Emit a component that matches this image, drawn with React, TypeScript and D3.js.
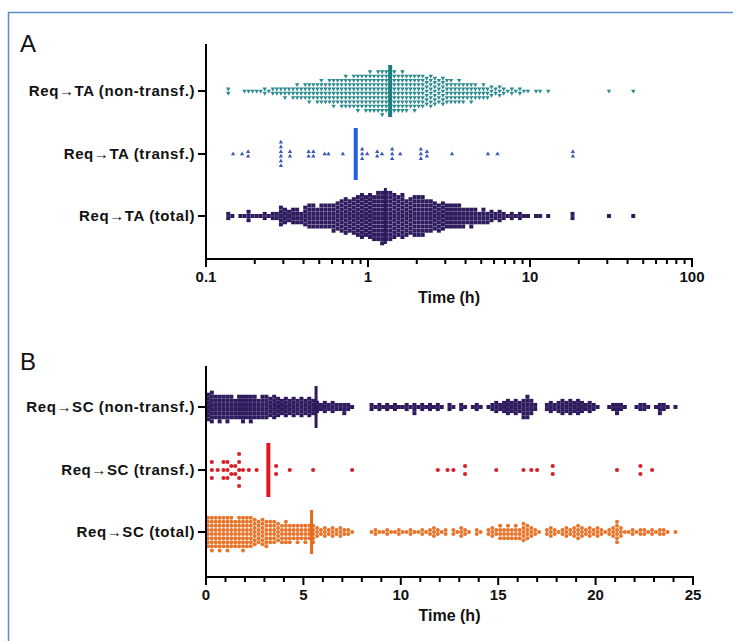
import { useEffect, useRef } from 'react';
import * as d3 from 'd3';

const W = 733;
const H = 641;
const FONT = '"Liberation Sans", Arial, Helvetica, sans-serif';

// ---- panel A (log axis), dense rows: point counts per 0.025-decade bin, starting at 0.1 h
const taBinStep = 0.025;
const taNonTransfCounts = [
  0, 0, 0, 0, 0, 2, 0, 0, 0, 1, 1, 1, 1, 1, 2, 1, 2, 2, 2, 3,
  2, 3, 4, 3, 4, 5, 4, 5, 6, 5, 6, 7, 6, 7, 8, 7, 8, 9, 8, 9,
  10, 9, 10, 11, 10, 11, 10, 9, 10, 9, 8, 9, 8, 8, 7, 8, 7, 6, 7, 6,
  6, 5, 6, 5, 4, 5, 4, 3, 4, 3, 3, 2, 3, 2, 1, 2, 1, 2, 1, 1,
  0, 1, 1, 0, 1, 0, 0, 0, 0, 0, 0, 0, 0, 0, 0, 0, 0, 0, 0, 1,
  0, 0, 0, 0, 0, 1,
];
const taTotalCounts = [
  0, 0, 0, 0, 0, 2, 1, 0, 1, 1, 3, 1, 1, 1, 2, 1, 2, 2, 5, 4,
  3, 4, 4, 3, 5, 6, 6, 5, 6, 6, 6, 7, 7, 8, 9, 8, 9, 10, 11, 10,
  11, 11, 12, 13, 12, 12, 11, 10, 11, 9, 9, 10, 10, 10, 8, 8, 7, 7, 7, 6,
  6, 6, 6, 5, 4, 5, 4, 3, 4, 3, 3, 2, 3, 2, 1, 2, 1, 2, 1, 1,
  0, 1, 1, 0, 1, 0, 0, 0, 0, 0, 2, 0, 0, 0, 0, 0, 0, 0, 0, 1,
  0, 0, 0, 0, 0, 1,
];
// sparse row: [hours, points stacked at that value]
const taTransf: [number, number][] = [
  [0.147, 1], [0.167, 1], [0.182, 2], [0.29, 6], [0.33, 2], [0.43, 2], [0.46, 2],
  [0.54, 1], [0.57, 1], [0.7, 1], [0.92, 3], [0.99, 1], [1.14, 2], [1.22, 1],
  [1.41, 3], [1.58, 1], [2.12, 3], [2.31, 2], [3.3, 1], [5.5, 1], [6.3, 1], [18.4, 2],
];
const taLabels = ['Req→TA (non-transf.)', 'Req→TA (transf.)', 'Req→TA (total)'];
const taMedians = [1.37, 0.84, 1.28];

// ---- panel B (linear axis), dense rows: counts per 0.2 h bin, first bin centred at 0.1 h
const scBinStep = 0.2;
const scNonTransfCounts = [
  7, 8, 6, 7, 6, 7, 6, 5, 6, 7, 6, 7, 6, 5, 6, 6, 5, 6, 5, 4,
  5, 4, 5, 4, 5, 4, 5, 4, 3, 2, 3, 2, 3, 2, 2, 3, 2, 1, 0, 0,
  0, 0, 2, 1, 2, 1, 2, 1, 2, 1, 1, 2, 1, 3, 1, 2, 1, 2, 1, 2,
  1, 0, 2, 1, 0, 2, 1, 0, 1, 2, 1, 0, 1, 2, 3, 2, 3, 4, 3, 4,
  3, 5, 6, 4, 2, 0, 0, 2, 3, 2, 3, 4, 3, 4, 3, 4, 3, 2, 3, 2,
  1, 0, 0, 1, 2, 3, 2, 1, 0, 0, 1, 2, 2, 1, 0, 1, 3, 2, 1, 0,
  1,
];
const scTotalCounts = [
  8, 9, 8, 9, 8, 9, 8, 7, 8, 9, 8, 8, 7, 6, 7, 7, 6, 6, 5, 5,
  6, 5, 4, 5, 4, 5, 4, 5, 3, 2, 3, 2, 3, 2, 3, 2, 2, 1, 0, 0,
  0, 0, 1, 2, 1, 1, 2, 1, 1, 2, 1, 1, 2, 1, 1, 2, 1, 2, 3, 2,
  1, 2, 0, 2, 1, 3, 2, 1, 0, 2, 1, 0, 2, 3, 2, 4, 3, 4, 3, 4,
  3, 5, 4, 3, 2, 1, 0, 2, 3, 2, 1, 2, 3, 2, 3, 4, 3, 2, 3, 2,
  3, 2, 1, 2, 3, 6, 3, 1, 1, 2, 1, 2, 2, 1, 2, 1, 2, 2, 1, 0,
  1,
];
const scTransf: [number, number][] = [
  [0.3, 3], [0.6, 1], [0.9, 3], [1.1, 3], [1.3, 2], [1.5, 2], [1.7, 5], [1.9, 1],
  [2.2, 1], [2.6, 1], [3.6, 2], [4.3, 1], [5.5, 1], [7.5, 1], [11.9, 1], [12.4, 1],
  [12.7, 1], [13.3, 2], [14.9, 1], [16.3, 1], [16.7, 1], [17.0, 1], [17.8, 2],
  [21.1, 1], [22.3, 2], [22.9, 1],
];
const scLabels = ['Req→SC (non-transf.)', 'Req→SC (transf.)', 'Req→SC (total)'];
const scMedians = [5.65, 3.2, 5.42];

const aTicks = [0.1, 1, 10, 100];
const bTicks = [0, 5, 10, 15, 20, 25];

type Pt = { v: number; dy: number };

// stack points of one value into a column; odd columns are nudged half a step (hex packing)
function stack(pairs: [number, number][], step: number, stagger = false): Pt[] {
  const out: Pt[] = [];
  pairs.forEach(([v, n], i) => {
    const shift = stagger && i % 2 === 1 && n % 2 === 1 && n > 2 ? step / 2 : 0;
    for (let k = 0; k < n; k++) out.push({ v, dy: (k - (n - 1) / 2) * step + shift });
  });
  return out;
}

export default function App() {
  const ref = useRef<SVGSVGElement>(null);

  useEffect(() => {
    const svg = d3.select(ref.current);
    svg.selectAll('*').remove();

    svg.append('rect').attr('width', W).attr('height', H).attr('fill', '#fff');
    svg.append('rect')
      .attr('x', 8.5).attr('y', 12.5).attr('width', 760).attr('height', 660)
      .attr('fill', 'none').attr('stroke', '#5b8bd0').attr('stroke-width', 1.5);

    const panels = [
      {
        letter: 'A', letterY: 52, top: 44, axisY: 259, rows: [91, 154, 216],
        x: d3.scaleLog().domain([0.1, 100]).range([206, 692]),
        labels: taLabels, medians: taMedians, ticks: aTicks,
      },
      {
        letter: 'B', letterY: 370, top: 366, axisY: 577, rows: [407, 470, 532],
        x: d3.scaleLinear().domain([0, 25]).range([206, 693]),
        labels: scLabels, medians: scMedians, ticks: bTicks,
      },
    ];

    const aBins = (counts: number[]): [number, number][] =>
      counts.map((c, i) => [Math.pow(10, -1 + (i + 0.5) * taBinStep), c] as [number, number]).filter((d) => d[1] > 0);
    const bBins = (counts: number[]): [number, number][] =>
      counts.map((c, i) => [scBinStep / 2 + i * scBinStep, c] as [number, number]).filter((d) => d[1] > 0);

    const rowSpecs = [
      [
        { pts: stack(aBins(taNonTransfCounts), 4.3, true), shape: 'tri-down', color: '#2a8a8d', size: 8.5, med: '#1b7d80', medW: 4, medH: 26 },
        { pts: stack(taTransf, 4.7), shape: 'tri-up', color: '#3a58b8', size: 8, med: '#1f60e6', medW: 4, medH: 26 },
        { pts: stack(aBins(taTotalCounts), 4.2, true), shape: 'square', color: '#2e1b5e', size: 4, med: '#2e1b5e', medW: 3, medH: 28 },
      ],
      [
        { pts: stack(bBins(scNonTransfCounts), 4.1, true), shape: 'square', color: '#2e1b5e', size: 4, med: '#2e1b5e', medW: 3, medH: 21 },
        { pts: stack(scTransf, 8), shape: 'circle', color: '#d4202a', size: 2.1, med: '#e5161e', medW: 4, medH: 27 },
        { pts: stack(bBins(scTotalCounts), 4.1, true), shape: 'circle', color: '#e8742a', size: 2, med: '#e46a1a', medW: 3, medH: 22 },
      ],
    ];

    panels.forEach((p, pi) => {
      const g = svg.append('g');
      const [x0, x1] = p.x.range();

      g.append('text').attr('x', 20).attr('y', p.letterY)
        .attr('font-family', FONT).attr('font-size', 24).attr('fill', '#111').text(p.letter);

      // swarms
      rowSpecs[pi].forEach((r, ri) => {
        const cy = p.rows[ri];
        const sel = g.append('g').attr('fill', r.color);
        r.pts.forEach((d) => {
          const px = p.x(d.v);
          const py = cy + d.dy;
          if (r.shape === 'square') {
            sel.append('rect').attr('x', px - r.size / 2).attr('y', py - r.size / 2)
              .attr('width', r.size).attr('height', r.size);
          } else if (r.shape === 'circle') {
            sel.append('circle').attr('cx', px).attr('cy', py).attr('r', r.size);
          } else {
            sel.append('path')
              .attr('d', d3.symbol(d3.symbolTriangle, r.size)())
              .attr('transform', `translate(${px},${py})${r.shape === 'tri-down' ? ' rotate(180)' : ''}`);
          }
        });
        g.append('line')
          .attr('x1', p.x(p.medians[ri])).attr('x2', p.x(p.medians[ri]))
          .attr('y1', cy - r.medH).attr('y2', cy + r.medH)
          .attr('stroke', r.med).attr('stroke-width', r.medW);
      });

      // y axis
      g.append('line').attr('x1', x0).attr('x2', x0).attr('y1', p.top).attr('y2', p.axisY + 1)
        .attr('stroke', '#000').attr('stroke-width', 2);
      p.rows.forEach((cy, ri) => {
        g.append('line').attr('x1', x0 - 8).attr('x2', x0).attr('y1', cy).attr('y2', cy)
          .attr('stroke', '#000').attr('stroke-width', 2);
        g.append('text').attr('x', x0 - 11).attr('y', cy).attr('dy', '0.35em')
          .attr('text-anchor', 'end').attr('font-family', FONT).attr('font-weight', 'bold')
          .attr('font-size', 15).attr('letter-spacing', 0.6).attr('fill', '#111').text(p.labels[ri]);
      });

      // x axis
      g.append('line').attr('x1', x0 - 1).attr('x2', x1 + 1).attr('y1', p.axisY).attr('y2', p.axisY)
        .attr('stroke', '#000').attr('stroke-width', 2);
      const minor = pi === 0
        ? (p.x as d3.ScaleLogarithmic<number, number>).ticks()
        : (p.x as d3.ScaleLinear<number, number>).ticks(25);
      minor.forEach((t) => {
        const major = p.ticks.some((m) => Math.abs(m - t) < 1e-9);
        g.append('line').attr('x1', p.x(t)).attr('x2', p.x(t))
          .attr('y1', p.axisY).attr('y2', p.axisY + (major ? 8 : 5))
          .attr('stroke', '#000').attr('stroke-width', 2);
      });
      p.ticks.forEach((t) => {
        g.append('text').attr('x', p.x(t)).attr('y', p.axisY + 23)
          .attr('text-anchor', 'middle').attr('font-family', FONT).attr('font-weight', 'bold')
          .attr('font-size', 15).attr('fill', '#111').text(String(t));
      });
      g.append('text').attr('x', (x0 + x1) / 2).attr('y', p.axisY + 44)
        .attr('text-anchor', 'middle').attr('font-family', FONT).attr('font-weight', 'bold')
        .attr('font-size', 16).attr('fill', '#111').text('Time (h)');
    });
  }, []);

  return (
    <svg ref={ref} width={W} height={H} style={{ position: 'absolute', left: 0, top: 0 }} />
  );
}
